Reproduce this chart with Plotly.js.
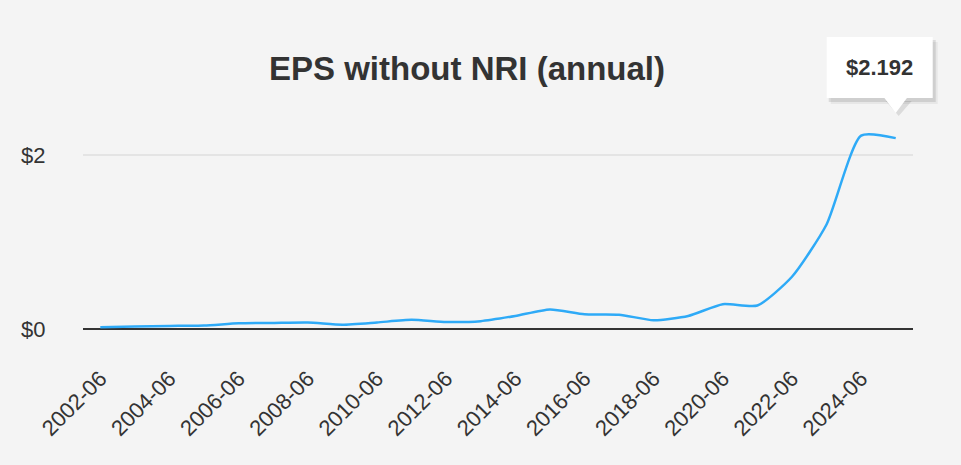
<!DOCTYPE html>
<html>
<head>
<meta charset="utf-8">
<script src="https://cdn.plot.ly/plotly-3.0.1.min.js"></script>
<style>
html,body{margin:0;padding:0;background:#f4f4f4;}
#chart{width:961px;height:465px;}
</style>
</head>
<body>
<div id="chart"></div>
<script>
var periods = ["2002-06","2003-06","2004-06","2005-06","2006-06","2007-06","2008-06","2009-06","2010-06","2011-06","2012-06","2013-06","2014-06","2015-06","2016-06","2017-06","2018-06","2019-06","2020-06","2021-06","2022-06","2023-06","2024-06","2025-06"];
var eps = [0.02,0.03,0.035,0.04,0.065,0.07,0.075,0.05,0.075,0.105,0.08,0.09,0.15,0.225,0.17,0.165,0.1,0.15,0.285,0.27,0.6,1.2,2.22,2.192];
var tickLabels = ["2002-06","2004-06","2006-06","2008-06","2010-06","2012-06","2014-06","2016-06","2018-06","2020-06","2022-06","2024-06"];

var W = 961, H = 465;
var M = {l:83, r:48, t:120, b:136};
var pw = W - M.l - M.r, ph = H - M.t - M.b;
function px2x(p){ return (p - M.l) / pw; }
function px2y(p){ return (H - M.b - p) / ph; }

var yMax = 2.4;
var lastIdx = eps.length - 1;
var lastPx = M.l + (lastIdx + 0.5) / periods.length * pw;
var lastPy = H - M.b - eps[lastIdx] / yMax * ph;

var bx0 = lastPx - 69, bx1 = lastPx + 37, by0 = lastPy - 101, by1 = lastPy - 40;
var tipY = lastPy - 25;

function rect(x0,y0,x1,y1,fill){
  return {type:'rect', xref:'paper', yref:'paper', x0:px2x(x0), x1:px2x(x1), y0:px2y(y1), y1:px2y(y0),
    fillcolor:fill, line:{width:0}, layer:'above'};
}
function tri(cx,yb,yt,half,fill){
  return {type:'path', xref:'paper', yref:'paper',
    path:'M '+px2x(cx-half)+' '+px2y(yb)+' L '+px2x(cx+half)+' '+px2y(yb)+' L '+px2x(cx)+' '+px2y(yt)+' Z',
    fillcolor:fill, line:{width:0}, layer:'above'};
}

var shapes = [
  rect(bx0+4, by0+5, bx1+5, by1+6, 'rgba(0,0,0,0.05)'),
  rect(bx0+2, by0+3, bx1+3, by1+4, 'rgba(0,0,0,0.10)'),
  tri(lastPx+3, by1+3, tipY+3, 13, 'rgba(0,0,0,0.10)'),
  rect(bx0, by0, bx1, by1, '#ffffff'),
  tri(lastPx, by1-1, tipY, 12, '#ffffff')
];

var trace = {
  x: periods, y: eps, type:'scatter', mode:'lines',
  line:{color:'#2eaaf7', width:2.5, shape:'spline', smoothing:0.6},
  hoverinfo:'skip'
};

var layout = {
  width:W, height:H,
  paper_bgcolor:'#f4f4f4', plot_bgcolor:'#f4f4f4',
  margin:M,
  showlegend:false,
  font:{family:'"Liberation Sans", Arial, sans-serif', color:'#333333', size:22},
  title:{text:'<b>EPS without NRI (annual)</b>', x:467/W, xanchor:'center', xref:'container',
         y:1-68/H, yanchor:'middle', yref:'container',
         font:{family:'"Liberation Sans", Arial, sans-serif', size:33, color:'#333333'}},
  xaxis:{type:'category', range:[-0.5, periods.length-0.5], tickmode:'array', tickvals:tickLabels, ticktext:tickLabels,
         tickangle:-45, ticks:'outside', ticklen:27, tickcolor:'rgba(0,0,0,0)',
         showgrid:false, zeroline:false, showline:false,
         tickfont:{size:22, color:'#333333'}},
  yaxis:{range:[0, yMax], tickvals:[0,2], ticktext:['$0','$2'], showgrid:true, gridcolor:'#e4e4e4', gridwidth:2,
         zeroline:true, zerolinecolor:'#333333', zerolinewidth:2, showline:false,
         ticks:'outside', ticklen:32, tickcolor:'rgba(0,0,0,0)', tickfont:{size:22, color:'#333333'}},
  shapes: shapes,
  annotations:[{xref:'paper', yref:'paper', x:px2x((bx0+bx1)/2), y:px2y((by0+by1)/2), xanchor:'center', yanchor:'middle',
    text:'<b>$' + eps[lastIdx].toFixed(3) + '</b>', showarrow:false, font:{size:22, color:'#333333'}}]
};

Plotly.newPlot('chart', [trace], layout, {displayModeBar:false, staticPlot:true});
</script>
</body>
</html>
